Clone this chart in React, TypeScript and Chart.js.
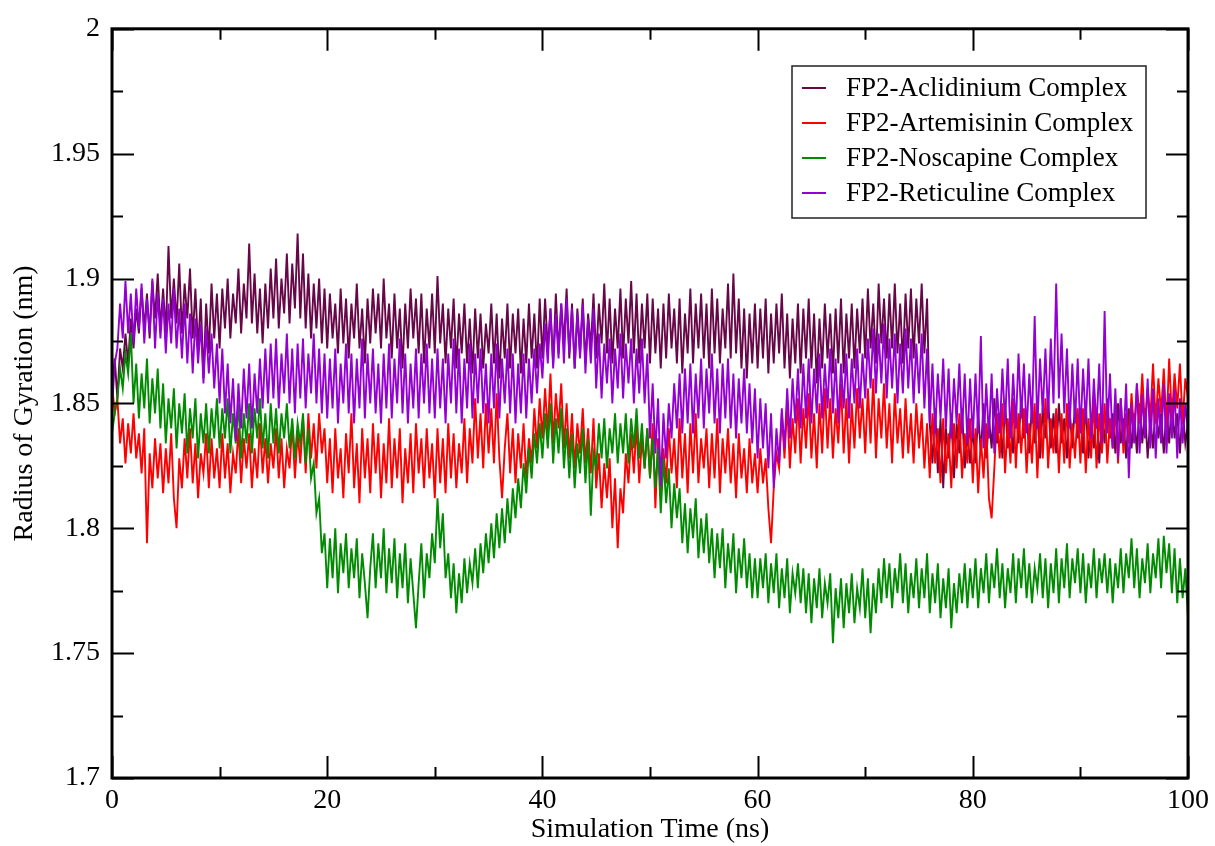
import React, { useEffect, useRef } from "react";
import { Chart, registerables } from "chart.js";

Chart.register(...registerables);

const FONT = '"Liberation Serif", "Times New Roman", serif';

const SERIES_LABELS = [
  "FP2-Aclidinium Complex",
  "FP2-Artemisinin Complex",
  "FP2-Noscapine Complex",
  "FP2-Reticuline Complex",
];
const SERIES_COLORS = ["#670748", "#ff0000", "#008b00", "#9400d3"];

const X_TICKS = [0, 20, 40, 60, 80, 100];
const X_MINOR = [10, 30, 50, 70, 90];
const Y_TICKS = [1.7, 1.75, 1.8, 1.85, 1.9, 1.95, 2];
const Y_MINOR = [1.725, 1.775, 1.825, 1.875, 1.925, 1.975];

// sampled every 0.25 ns from 0 to 100 ns (one row = 10 ns)
const ACLIDINIUM = [
  1.856, 1.868, 1.852, 1.872, 1.864, 1.878, 1.866, 1.884, 1.872, 1.888, 1.878, 1.896, 1.880, 1.894, 1.876, 1.899, 1.884, 1.902, 1.880, 1.896,
  1.878, 1.913, 1.884, 1.900, 1.882, 1.906, 1.878, 1.898, 1.884, 1.904, 1.876, 1.896, 1.872, 1.892, 1.860, 1.890, 1.870, 1.898, 1.876, 1.894,
  1.872, 1.896, 1.880, 1.900, 1.876, 1.894, 1.882, 1.904, 1.878, 1.898, 1.884, 1.914, 1.882, 1.902, 1.878, 1.896, 1.874, 1.898, 1.880, 1.904,
  1.884, 1.908, 1.880, 1.900, 1.886, 1.910, 1.882, 1.906, 1.888, 1.918, 1.884, 1.910, 1.880, 1.902, 1.876, 1.898, 1.880, 1.900, 1.874, 1.896,
  1.872, 1.894, 1.876, 1.890, 1.870, 1.896, 1.874, 1.892, 1.868, 1.890, 1.876, 1.898, 1.872, 1.888, 1.866, 1.892, 1.874, 1.896, 1.878, 1.894,
  1.872, 1.900, 1.876, 1.890, 1.868, 1.894, 1.872, 1.888, 1.864, 1.890, 1.872, 1.896, 1.876, 1.892, 1.870, 1.894, 1.866, 1.888, 1.872, 1.894,
  1.870, 1.901, 1.874, 1.890, 1.866, 1.888, 1.872, 1.892, 1.864, 1.886, 1.870, 1.890, 1.866, 1.884, 1.862, 1.888, 1.868, 1.886, 1.864, 1.882,
  1.870, 1.890, 1.866, 1.886, 1.860, 1.884, 1.868, 1.890, 1.864, 1.886, 1.870, 1.888, 1.862, 1.884, 1.866, 1.890, 1.868, 1.886, 1.864, 1.892,
  1.868, 1.892, 1.872, 1.888, 1.866, 1.894, 1.870, 1.890, 1.874, 1.896, 1.868, 1.890, 1.864, 1.888, 1.870, 1.892, 1.866, 1.886, 1.872, 1.894,
  1.868, 1.890, 1.874, 1.898, 1.870, 1.892, 1.866, 1.888, 1.872, 1.896, 1.868, 1.892, 1.874, 1.899, 1.870, 1.894, 1.866, 1.890, 1.872, 1.894,
  1.866, 1.892, 1.870, 1.888, 1.864, 1.890, 1.868, 1.894, 1.872, 1.888, 1.866, 1.892, 1.862, 1.886, 1.870, 1.896, 1.866, 1.890, 1.872, 1.894,
  1.868, 1.890, 1.864, 1.896, 1.870, 1.892, 1.866, 1.888, 1.872, 1.898, 1.868, 1.902, 1.870, 1.892, 1.864, 1.888, 1.860, 1.886, 1.866, 1.890,
  1.864, 1.888, 1.868, 1.892, 1.862, 1.886, 1.866, 1.890, 1.870, 1.894, 1.864, 1.886, 1.860, 1.884, 1.866, 1.890, 1.862, 1.888, 1.868, 1.892,
  1.864, 1.886, 1.858, 1.884, 1.864, 1.890, 1.868, 1.886, 1.862, 1.888, 1.866, 1.892, 1.862, 1.886, 1.868, 1.890, 1.864, 1.888, 1.870, 1.892,
  1.868, 1.896, 1.872, 1.890, 1.866, 1.898, 1.874, 1.892, 1.868, 1.894, 1.872, 1.898, 1.870, 1.890, 1.866, 1.894, 1.872, 1.896, 1.868, 1.892,
  1.874, 1.898, 1.870, 1.892, 1.842, 1.826, 1.848, 1.822, 1.844, 1.816, 1.840, 1.828, 1.846, 1.820, 1.842, 1.830, 1.848, 1.824, 1.838, 1.826,
  1.840, 1.826, 1.846, 1.830, 1.850, 1.828, 1.844, 1.832, 1.852, 1.834, 1.846, 1.828, 1.850, 1.832, 1.844, 1.830, 1.848, 1.834, 1.852, 1.836,
  1.846, 1.830, 1.850, 1.834, 1.846, 1.828, 1.848, 1.836, 1.852, 1.832, 1.846, 1.830, 1.850, 1.834, 1.844, 1.828, 1.848, 1.832, 1.850, 1.836,
  1.846, 1.830, 1.850, 1.828, 1.844, 1.832, 1.848, 1.826, 1.846, 1.834, 1.852, 1.836, 1.846, 1.830, 1.850, 1.834, 1.844, 1.828, 1.848, 1.832,
  1.846, 1.830, 1.850, 1.834, 1.848, 1.828, 1.844, 1.832, 1.850, 1.836, 1.846, 1.830, 1.848, 1.834, 1.852, 1.836, 1.846, 1.830, 1.848, 1.834,
  1.842,
];

const ARTEMISININ = [
  1.858, 1.846, 1.852, 1.834, 1.844, 1.826, 1.842, 1.830, 1.846, 1.828, 1.838, 1.822, 1.840, 1.794, 1.830, 1.816, 1.836, 1.820, 1.834, 1.814,
  1.832, 1.818, 1.838, 1.812, 1.800, 1.828, 1.816, 1.836, 1.820, 1.840, 1.818, 1.834, 1.812, 1.830, 1.822, 1.838, 1.816, 1.836, 1.820, 1.832,
  1.816, 1.838, 1.820, 1.834, 1.814, 1.830, 1.822, 1.840, 1.818, 1.836, 1.824, 1.838, 1.816, 1.832, 1.820, 1.842, 1.822, 1.836, 1.818, 1.834,
  1.824, 1.840, 1.820, 1.836, 1.816, 1.832, 1.824, 1.842, 1.820, 1.838, 1.826, 1.844, 1.822, 1.846, 1.828, 1.842, 1.824, 1.846, 1.830, 1.840,
  1.818, 1.836, 1.814, 1.840, 1.820, 1.832, 1.812, 1.838, 1.822, 1.846, 1.816, 1.834, 1.810, 1.840, 1.820, 1.836, 1.814, 1.842, 1.822, 1.838,
  1.812, 1.834, 1.818, 1.844, 1.816, 1.836, 1.820, 1.840, 1.810, 1.832, 1.818, 1.838, 1.814, 1.842, 1.822, 1.836, 1.816, 1.840, 1.820, 1.834,
  1.812, 1.840, 1.818, 1.836, 1.814, 1.842, 1.820, 1.838, 1.816, 1.834, 1.822, 1.844, 1.818, 1.840, 1.826, 1.852, 1.828, 1.846, 1.824, 1.850,
  1.830, 1.848, 1.826, 1.854, 1.828, 1.812, 1.832, 1.846, 1.822, 1.840, 1.818, 1.838, 1.824, 1.842, 1.820, 1.836, 1.826, 1.848, 1.832, 1.852,
  1.836, 1.856, 1.838, 1.862, 1.834, 1.854, 1.840, 1.858, 1.832, 1.850, 1.828, 1.846, 1.824, 1.842, 1.830, 1.848, 1.826, 1.840, 1.822, 1.844,
  1.816, 1.830, 1.808, 1.826, 1.812, 1.828, 1.800, 1.820, 1.792, 1.816, 1.806, 1.830, 1.818, 1.838, 1.822, 1.842, 1.818, 1.836, 1.824, 1.840,
  1.820, 1.842, 1.808, 1.836, 1.812, 1.832, 1.818, 1.840, 1.822, 1.836, 1.816, 1.844, 1.820, 1.838, 1.814, 1.842, 1.822, 1.846, 1.818, 1.836,
  1.824, 1.840, 1.816, 1.838, 1.820, 1.844, 1.814, 1.836, 1.822, 1.840, 1.818, 1.834, 1.812, 1.838, 1.820, 1.832, 1.814, 1.836, 1.818, 1.830,
  1.814, 1.832, 1.818, 1.828, 1.808, 1.794, 1.816, 1.830, 1.824, 1.846, 1.828, 1.850, 1.824, 1.844, 1.830, 1.852, 1.826, 1.848, 1.832, 1.854,
  1.828, 1.846, 1.824, 1.850, 1.830, 1.856, 1.832, 1.852, 1.828, 1.848, 1.834, 1.858, 1.830, 1.852, 1.826, 1.850, 1.832, 1.856, 1.836, 1.852,
  1.830, 1.856, 1.834, 1.860, 1.828, 1.852, 1.836, 1.858, 1.832, 1.850, 1.826, 1.854, 1.834, 1.848, 1.828, 1.852, 1.830, 1.846, 1.826, 1.850,
  1.832, 1.846, 1.824, 1.842, 1.820, 1.846, 1.826, 1.840, 1.818, 1.844, 1.822, 1.838, 1.816, 1.842, 1.824, 1.846, 1.820, 1.838, 1.826, 1.844,
  1.818, 1.840, 1.814, 1.836, 1.820, 1.842, 1.812, 1.804, 1.824, 1.846, 1.828, 1.850, 1.822, 1.844, 1.826, 1.852, 1.824, 1.846, 1.830, 1.848,
  1.822, 1.842, 1.826, 1.850, 1.820, 1.846, 1.828, 1.852, 1.824, 1.844, 1.830, 1.848, 1.822, 1.846, 1.826, 1.850, 1.824, 1.842, 1.828, 1.848,
  1.826, 1.848, 1.822, 1.844, 1.828, 1.852, 1.824, 1.846, 1.830, 1.850, 1.826, 1.844, 1.832, 1.848, 1.826, 1.852, 1.830, 1.846, 1.834, 1.854,
  1.838, 1.858, 1.842, 1.862, 1.840, 1.856, 1.844, 1.866, 1.842, 1.860, 1.846, 1.864, 1.840, 1.868, 1.844, 1.862, 1.848, 1.866, 1.842, 1.860,
  1.852,
];

const NOSCAPINE = [
  1.838, 1.846, 1.852, 1.864, 1.856, 1.870, 1.862, 1.878, 1.850, 1.866, 1.844, 1.862, 1.848, 1.868, 1.842, 1.860, 1.846, 1.864, 1.840, 1.858,
  1.834, 1.852, 1.840, 1.856, 1.832, 1.850, 1.838, 1.854, 1.830, 1.848, 1.836, 1.852, 1.828, 1.846, 1.834, 1.850, 1.830, 1.848, 1.836, 1.852,
  1.832, 1.848, 1.836, 1.852, 1.830, 1.846, 1.834, 1.850, 1.828, 1.846, 1.834, 1.850, 1.830, 1.848, 1.836, 1.852, 1.832, 1.846, 1.828, 1.850,
  1.834, 1.848, 1.830, 1.846, 1.836, 1.850, 1.832, 1.844, 1.828, 1.842, 1.834, 1.846, 1.826, 1.840, 1.820, 1.826, 1.806, 1.812, 1.790, 1.798,
  1.776, 1.796, 1.780, 1.800, 1.774, 1.794, 1.782, 1.798, 1.776, 1.792, 1.780, 1.796, 1.772, 1.790, 1.778, 1.764, 1.784, 1.798, 1.776, 1.794,
  1.780, 1.800, 1.774, 1.792, 1.778, 1.796, 1.772, 1.790, 1.776, 1.794, 1.770, 1.788, 1.774, 1.760, 1.778, 1.794, 1.772, 1.790, 1.780, 1.798,
  1.786, 1.812, 1.792, 1.806, 1.780, 1.790, 1.772, 1.786, 1.766, 1.782, 1.770, 1.788, 1.774, 1.786, 1.778, 1.792, 1.776, 1.794, 1.782, 1.798,
  1.786, 1.802, 1.788, 1.806, 1.792, 1.808, 1.794, 1.812, 1.798, 1.816, 1.804, 1.820, 1.808, 1.826, 1.814, 1.832, 1.820, 1.838, 1.826, 1.842,
  1.828, 1.846, 1.832, 1.850, 1.826, 1.844, 1.830, 1.848, 1.824, 1.840, 1.820, 1.838, 1.816, 1.834, 1.822, 1.840, 1.818, 1.836, 1.805, 1.830,
  1.824, 1.842, 1.828, 1.844, 1.824, 1.840, 1.830, 1.846, 1.826, 1.842, 1.830, 1.846, 1.826, 1.844, 1.832, 1.848, 1.828, 1.842, 1.824, 1.840,
  1.820, 1.836, 1.816, 1.832, 1.806, 1.828, 1.810, 1.824, 1.800, 1.818, 1.804, 1.816, 1.794, 1.810, 1.790, 1.808, 1.796, 1.812, 1.788, 1.804,
  1.790, 1.806, 1.786, 1.800, 1.780, 1.798, 1.784, 1.800, 1.776, 1.794, 1.782, 1.798, 1.774, 1.792, 1.780, 1.796, 1.776, 1.790, 1.772, 1.788,
  1.772, 1.788, 1.776, 1.790, 1.770, 1.786, 1.774, 1.790, 1.768, 1.784, 1.772, 1.788, 1.766, 1.782, 1.774, 1.786, 1.770, 1.784, 1.766, 1.782,
  1.762, 1.780, 1.768, 1.784, 1.764, 1.778, 1.770, 1.782, 1.754, 1.776, 1.764, 1.780, 1.760, 1.778, 1.766, 1.782, 1.762, 1.776, 1.768, 1.784,
  1.764, 1.780, 1.758, 1.778, 1.766, 1.784, 1.770, 1.788, 1.772, 1.786, 1.768, 1.784, 1.774, 1.790, 1.770, 1.786, 1.766, 1.782, 1.772, 1.788,
  1.768, 1.784, 1.772, 1.790, 1.766, 1.782, 1.770, 1.786, 1.764, 1.780, 1.768, 1.784, 1.760, 1.778, 1.766, 1.782, 1.770, 1.786, 1.768, 1.784,
  1.772, 1.788, 1.768, 1.784, 1.774, 1.790, 1.770, 1.786, 1.776, 1.792, 1.772, 1.786, 1.768, 1.784, 1.774, 1.790, 1.770, 1.788, 1.776, 1.792,
  1.772, 1.786, 1.770, 1.784, 1.776, 1.790, 1.772, 1.788, 1.768, 1.786, 1.774, 1.792, 1.770, 1.788, 1.776, 1.794, 1.772, 1.788, 1.778, 1.792,
  1.774, 1.790, 1.770, 1.786, 1.776, 1.792, 1.772, 1.788, 1.778, 1.790, 1.774, 1.788, 1.770, 1.786, 1.776, 1.792, 1.774, 1.790, 1.780, 1.796,
  1.776, 1.792, 1.772, 1.788, 1.778, 1.794, 1.774, 1.790, 1.780, 1.796, 1.776, 1.797, 1.782, 1.794, 1.774, 1.792, 1.770, 1.788, 1.772, 1.784,
  1.764,
];

const RETICULINE = [
  1.848, 1.866, 1.872, 1.890, 1.876, 1.899, 1.878, 1.894, 1.874, 1.896, 1.880, 1.898, 1.874, 1.892, 1.878, 1.900, 1.872, 1.894, 1.876, 1.892,
  1.870, 1.890, 1.874, 1.896, 1.872, 1.888, 1.868, 1.890, 1.866, 1.886, 1.862, 1.884, 1.866, 1.882, 1.858, 1.880, 1.862, 1.878, 1.856, 1.874,
  1.850, 1.872, 1.846, 1.866, 1.842, 1.860, 1.835, 1.858, 1.840, 1.864, 1.844, 1.866, 1.840, 1.862, 1.846, 1.868, 1.848, 1.872, 1.850, 1.874,
  1.852, 1.876, 1.848, 1.870, 1.854, 1.878, 1.850, 1.872, 1.846, 1.874, 1.852, 1.876, 1.848, 1.870, 1.854, 1.878, 1.850, 1.872, 1.846, 1.870,
  1.844, 1.868, 1.848, 1.872, 1.842, 1.866, 1.850, 1.874, 1.846, 1.870, 1.842, 1.868, 1.848, 1.876, 1.844, 1.870, 1.850, 1.872, 1.846, 1.866,
  1.842, 1.870, 1.848, 1.874, 1.844, 1.868, 1.850, 1.876, 1.846, 1.870, 1.842, 1.866, 1.848, 1.872, 1.844, 1.870, 1.850, 1.874, 1.846, 1.868,
  1.844, 1.872, 1.848, 1.868, 1.842, 1.870, 1.850, 1.876, 1.846, 1.872, 1.842, 1.868, 1.848, 1.874, 1.844, 1.870, 1.850, 1.872, 1.846, 1.866,
  1.842, 1.870, 1.848, 1.874, 1.844, 1.868, 1.850, 1.872, 1.846, 1.870, 1.842, 1.866, 1.846, 1.870, 1.844, 1.868, 1.850, 1.872, 1.854, 1.874,
  1.860, 1.882, 1.866, 1.888, 1.864, 1.886, 1.868, 1.890, 1.866, 1.892, 1.870, 1.888, 1.864, 1.886, 1.868, 1.890, 1.862, 1.884, 1.866, 1.888,
  1.856, 1.878, 1.852, 1.874, 1.858, 1.876, 1.850, 1.872, 1.856, 1.878, 1.852, 1.874, 1.858, 1.876, 1.850, 1.872, 1.854, 1.876, 1.850, 1.870,
  1.836, 1.858, 1.830, 1.852, 1.817, 1.846, 1.828, 1.850, 1.836, 1.858, 1.840, 1.862, 1.838, 1.864, 1.842, 1.866, 1.838, 1.862, 1.844, 1.868,
  1.840, 1.864, 1.846, 1.870, 1.842, 1.864, 1.838, 1.866, 1.844, 1.868, 1.840, 1.862, 1.836, 1.860, 1.842, 1.864, 1.838, 1.858, 1.834, 1.856,
  1.828, 1.852, 1.832, 1.850, 1.824, 1.846, 1.816, 1.840, 1.826, 1.848, 1.832, 1.856, 1.836, 1.860, 1.842, 1.864, 1.840, 1.866, 1.844, 1.868,
  1.842, 1.864, 1.846, 1.870, 1.844, 1.866, 1.848, 1.872, 1.846, 1.868, 1.842, 1.866, 1.848, 1.870, 1.844, 1.868, 1.850, 1.872, 1.848, 1.870,
  1.852, 1.876, 1.856, 1.880, 1.854, 1.878, 1.858, 1.882, 1.852, 1.876, 1.856, 1.878, 1.850, 1.874, 1.854, 1.880, 1.856, 1.876, 1.850, 1.874,
  1.854, 1.878, 1.848, 1.872, 1.842, 1.866, 1.838, 1.862, 1.844, 1.868, 1.840, 1.864, 1.836, 1.860, 1.842, 1.866, 1.838, 1.862, 1.834, 1.860,
  1.836, 1.862, 1.838, 1.877, 1.832, 1.858, 1.836, 1.862, 1.830, 1.856, 1.838, 1.864, 1.842, 1.868, 1.836, 1.862, 1.840, 1.870, 1.844, 1.866,
  1.838, 1.862, 1.842, 1.885, 1.840, 1.868, 1.846, 1.872, 1.844, 1.876, 1.850, 1.898, 1.852, 1.878, 1.846, 1.872, 1.840, 1.866, 1.842, 1.868,
  1.838, 1.864, 1.842, 1.868, 1.836, 1.860, 1.840, 1.866, 1.834, 1.887, 1.838, 1.862, 1.832, 1.856, 1.828, 1.852, 1.834, 1.858, 1.820, 1.850,
  1.834, 1.858, 1.830, 1.854, 1.836, 1.860, 1.832, 1.856, 1.828, 1.852, 1.834, 1.858, 1.830, 1.854, 1.836, 1.856, 1.828, 1.852, 1.834, 1.850,
  1.838,
];

const SERIES = [ACLIDINIUM, ARTEMISININ, NOSCAPINE, RETICULINE];
const TIME_STEP = 0.25;

const framePlugin = {
  id: "xmgraceFrame",
  afterDatasetsDraw(chart: any) {
    const { ctx, chartArea, scales } = chart;
    const { left, right, top, bottom } = chartArea;
    const x = scales.x;
    const y = scales.y;
    ctx.save();
    ctx.strokeStyle = "#000";
    ctx.lineWidth = 2;
    const MAJ = 22;
    const MIN = 11;
    const drawX = (vals: number[], len: number) => {
      vals.forEach((v) => {
        const px = Math.round(x.getPixelForValue(v)) + 0.5;
        ctx.beginPath();
        ctx.moveTo(px, bottom);
        ctx.lineTo(px, bottom - len);
        ctx.moveTo(px, top);
        ctx.lineTo(px, top + len);
        ctx.stroke();
      });
    };
    const drawY = (vals: number[], len: number) => {
      vals.forEach((v) => {
        const py = Math.round(y.getPixelForValue(v)) + 0.5;
        ctx.beginPath();
        ctx.moveTo(left, py);
        ctx.lineTo(left + len, py);
        ctx.moveTo(right, py);
        ctx.lineTo(right - len, py);
        ctx.stroke();
      });
    };
    drawX(X_TICKS, MAJ);
    drawX(X_MINOR, MIN);
    drawY(Y_TICKS, MAJ);
    drawY(Y_MINOR, MIN);
    ctx.lineWidth = 3;
    ctx.strokeRect(left, top, right - left, bottom - top);

    // legend
    const bx = 792, by = 66, bw = 354, bh = 152;
    ctx.fillStyle = "#fff";
    ctx.fillRect(bx, by, bw, bh);
    ctx.lineWidth = 1.5;
    ctx.strokeStyle = "#222";
    ctx.strokeRect(bx, by, bw, bh);
    ctx.font = "27px " + FONT;
    ctx.textBaseline = "middle";
    ctx.textAlign = "left";
    SERIES_LABELS.forEach((label, i) => {
      const ly = by + 22 + i * 35;
      ctx.strokeStyle = SERIES_COLORS[i];
      ctx.lineWidth = 2;
      ctx.beginPath();
      ctx.moveTo(802, ly);
      ctx.lineTo(826, ly);
      ctx.stroke();
      ctx.fillStyle = "#000";
      ctx.fillText(label, 846, ly + 1);
    });
    ctx.restore();
  },
};

export default function App() {
  const ref = useRef<HTMLCanvasElement | null>(null);

  useEffect(() => {
    document.body.style.margin = "0";
    const canvas = ref.current;
    if (!canvas) return;
    const datasets = SERIES.map((vals, i) => ({
      label: SERIES_LABELS[i],
      data: vals.map((v, k) => ({ x: k * TIME_STEP, y: v })),
      borderColor: SERIES_COLORS[i],
      backgroundColor: SERIES_COLORS[i],
      borderWidth: 1.9,
      pointRadius: 0,
      tension: 0,
      fill: false,
      order: SERIES.length - 1 - i,
    }));
    const chart = new Chart(canvas, {
      type: "line",
      data: { datasets },
      plugins: [framePlugin],
      options: {
        responsive: false,
        animation: false,
        events: [],
        layout: { padding: { top: 22, right: 25, left: 0, bottom: 0 } },
        plugins: {
          legend: { display: false },
          tooltip: { enabled: false },
          title: { display: false },
        },
        scales: {
          x: {
            type: "linear",
            min: 0,
            max: 100,
            afterBuildTicks: (scale: any) => {
              scale.ticks = X_TICKS.map((v) => ({ value: v }));
            },
            afterFit: (scale: any) => {
              scale.height = 68;
            },
            grid: { display: false, drawTicks: false },
            border: { display: false },
            ticks: {
              autoSkip: false,
              maxRotation: 0,
              padding: 6,
              color: "#000",
              font: { family: FONT, size: 28 },
            },
            title: {
              display: true,
              text: "Simulation Time (ns)",
              color: "#000",
              font: { family: FONT, size: 28 },
              padding: { top: 0, bottom: 0 },
            },
          },
          y: {
            type: "linear",
            min: 1.7,
            max: 2.0,
            afterBuildTicks: (scale: any) => {
              scale.ticks = Y_TICKS.map((v) => ({ value: v }));
            },
            afterFit: (scale: any) => {
              scale.width = 112;
            },
            grid: { display: false, drawTicks: false },
            border: { display: false },
            ticks: {
              padding: 12,
              color: "#000",
              font: { family: FONT, size: 28 },
              callback: (v: any) => String(Number(Number(v).toFixed(3))),
            },
            title: {
              display: true,
              text: "Radius of Gyration (nm)",
              color: "#000",
              font: { family: FONT, size: 28 },
              padding: { top: 8, bottom: 0 },
            },
          },
        },
      },
    });
    return () => chart.destroy();
  }, []);

  return (
    <div style={{ position: "absolute", left: 0, top: 0, width: 1215, height: 846, background: "#fff" }}>
      <canvas ref={ref} width={1215} height={846} style={{ display: "block" }} />
    </div>
  );
}
